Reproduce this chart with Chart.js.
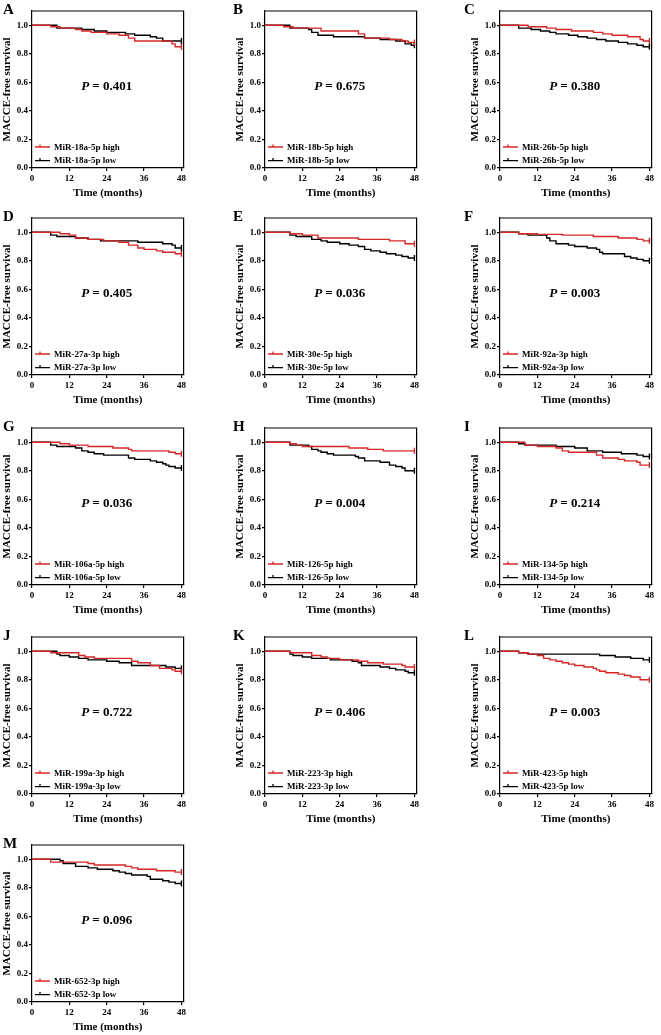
<!DOCTYPE html>
<html>
<head>
<meta charset="utf-8">
<script src="https://cdn.jsdelivr.net/npm/chart.js@4.4.1/dist/chart.umd.min.js"></script>
<style>
  html, body { margin: 0; padding: 0; background: #fff; overflow: hidden; }
  body { width: 661px; height: 1035px; position: relative; }
  .panel { position: absolute; }
</style>
</head>
<body>
<script>
const timeTicks = [0, 12, 24, 36, 48]
const survTicks = [0, 0.2, 0.4, 0.6, 0.8, 1.0]
const letters = ['A', 'B', 'C', 'D', 'E', 'F', 'G', 'H', 'I', 'J', 'K', 'L', 'M']
const mirnas = ['MiR-18a-5p', 'MiR-18b-5p', 'MiR-26b-5p', 'MiR-27a-3p', 'MiR-30e-5p', 'MiR-92a-3p',
  'MiR-106a-5p', 'MiR-126-5p', 'MiR-134-5p', 'MiR-199a-3p', 'MiR-223-3p', 'MiR-423-5p', 'MiR-652-3p']
const pValues = ['0.401', '0.675', '0.380', '0.405', '0.036', '0.003', '0.036', '0.004', '0.214', '0.722', '0.406', '0.003', '0.096']

// [month, survival after that event]
const highA = [[0,1],[6,0.99],[9,0.98],[14,0.97],[16,0.96],[19,0.95],[24,0.94],[28,0.93],[31,0.91],[33,0.89],[45,0.87],[46,0.85],[48,0.85]]
const lowA  = [[0,1],[8,0.98],[16,0.97],[20,0.96],[24,0.95],[30,0.94],[33,0.93],[38,0.92],[40,0.91],[42,0.89],[48,0.89]]
const highB = [[0,1],[6,0.99],[9,0.98],[18,0.96],[30,0.94],[32,0.91],[40,0.90],[44,0.89],[46,0.88],[48,0.88]]
const lowB  = [[0,1],[8,0.98],[14,0.97],[15,0.95],[17,0.93],[22,0.92],[32,0.91],[37,0.90],[42,0.89],[45,0.87],[47,0.86],[48,0.86]]
const highC = [[0,1],[9,0.99],[15,0.98],[18,0.97],[23,0.96],[30,0.95],[33,0.94],[36,0.93],[41,0.92],[45,0.90],[46,0.89],[48,0.89]]
const lowC  = [[0,1],[6,0.98],[10,0.97],[13,0.96],[16,0.95],[18,0.94],[22,0.93],[25,0.92],[28,0.91],[31,0.90],[34,0.89],[38,0.88],[41,0.87],[44,0.86],[46,0.85],[48,0.85]]
const highD = [[0,1],[9,0.99],[12,0.98],[14,0.96],[18,0.95],[23,0.94],[28,0.93],[31,0.91],[34,0.89],[36,0.88],[40,0.87],[42,0.86],[46,0.85],[48,0.85]]
const lowD  = [[0,1],[6,0.98],[8,0.97],[14,0.96],[18,0.95],[22,0.94],[34,0.93],[42,0.92],[45,0.91],[46,0.89],[48,0.89]]
const highE = [[0,1],[8,0.99],[12,0.98],[17,0.96],[30,0.95],[40,0.94],[45,0.92],[48,0.92]]
const lowE  = [[0,1],[8,0.98],[10,0.97],[15,0.95],[18,0.94],[20,0.93],[24,0.92],[27,0.91],[30,0.90],[32,0.88],[34,0.87],[37,0.86],[39,0.85],[42,0.84],[44,0.83],[46,0.82],[48,0.82]]
const highF = [[0,1],[6,0.99],[12,0.985],[20,0.98],[30,0.97],[38,0.96],[44,0.95],[46,0.94],[48,0.94]]
const lowF  = [[0,1],[6,0.99],[9,0.98],[15,0.96],[16,0.94],[18,0.92],[22,0.91],[24,0.90],[28,0.89],[31,0.88],[32,0.86],[33,0.85],[40,0.83],[42,0.82],[44,0.81],[46,0.80],[48,0.80]]
const highG = [[0,1],[9,0.99],[12,0.98],[18,0.97],[26,0.96],[31,0.95],[32,0.94],[44,0.93],[46,0.92],[48,0.92]]
const lowG  = [[0,1],[6,0.98],[8,0.97],[14,0.96],[16,0.94],[18,0.93],[20,0.92],[23,0.91],[31,0.89],[33,0.88],[38,0.87],[40,0.86],[42,0.85],[43,0.84],[44,0.83],[46,0.82],[48,0.82]]
const highH = [[0,1],[8,0.99],[10,0.98],[12,0.97],[27,0.96],[33,0.95],[38,0.94],[48,0.94]]
const lowH  = [[0,1],[8,0.98],[14,0.97],[15,0.95],[17,0.94],[18,0.93],[20,0.92],[22,0.91],[29,0.90],[30,0.89],[32,0.87],[37,0.86],[40,0.84],[42,0.83],[44,0.82],[45,0.80],[48,0.80]]
const highI = [[0,1],[8,0.98],[12,0.97],[18,0.96],[20,0.94],[22,0.93],[31,0.91],[33,0.89],[38,0.88],[40,0.87],[44,0.86],[45,0.84],[48,0.84]]
const lowI  = [[0,1],[6,0.99],[8,0.98],[18,0.97],[24,0.96],[28,0.94],[33,0.93],[39,0.92],[44,0.91],[46,0.90],[48,0.90]]
const highJ = [[0,1],[6,0.99],[15,0.97],[17,0.96],[20,0.95],[32,0.93],[34,0.92],[38,0.90],[41,0.88],[45,0.87],[46,0.86],[48,0.86]]
const lowJ  = [[0,1],[8,0.98],[9,0.97],[12,0.96],[15,0.95],[18,0.94],[24,0.93],[28,0.92],[32,0.90],[43,0.89],[46,0.88],[48,0.88]]
const highK = [[0,1],[8,0.99],[15,0.97],[18,0.96],[20,0.95],[24,0.94],[30,0.93],[33,0.92],[38,0.91],[44,0.90],[45,0.89],[48,0.89]]
const lowK  = [[0,1],[8,0.98],[9,0.97],[12,0.96],[15,0.95],[21,0.94],[28,0.93],[30,0.92],[31,0.90],[37,0.89],[40,0.88],[42,0.87],[45,0.86],[46,0.85],[48,0.85]]
const highL = [[0,1],[6,0.99],[9,0.98],[12,0.97],[14,0.95],[16,0.94],[18,0.93],[20,0.92],[22,0.91],[24,0.90],[27,0.89],[30,0.88],[31,0.87],[32,0.86],[34,0.85],[38,0.84],[40,0.83],[42,0.82],[45,0.80],[48,0.80]]
const lowL  = [[0,1],[6,0.99],[9,0.98],[32,0.97],[37,0.96],[42,0.95],[46,0.94],[48,0.94]]
const highM = [[0,1],[6,0.98],[18,0.97],[20,0.96],[30,0.95],[32,0.94],[34,0.93],[40,0.92],[46,0.91],[48,0.91]]
const lowM  = [[0,1],[9,0.99],[10,0.97],[14,0.95],[18,0.94],[21,0.93],[26,0.92],[28,0.91],[30,0.90],[32,0.89],[37,0.88],[38,0.86],[42,0.85],[44,0.84],[46,0.83],[48,0.83]]

const highs = [highA, highB, highC, highD, highE, highF, highG, highH, highI, highJ, highK, highL, highM]
const lows  = [lowA, lowB, lowC, lowD, lowE, lowF, lowG, lowH, lowI, lowJ, lowK, lowL, lowM]

const RED = 'rgb(214,38,38)'
const SERIF = '"Liberation Serif", "Times New Roman", serif'

// layout of the 3-column grid (plot-area left edges, x-axis baselines)
const colLeft = [32, 265, 500]
const letterDx = [-29, -32, -36]
const rowBase = [167.5, 375, 585, 794, 1002]
const AXIS_W = 32, AXIS_H = 33, PAD_L = 8, PAD_T = 12, PAD_R = 4, PLOT_W = 153, PLOT_H = 157

const overlay = {
  id: 'overlay',
  afterDraw(chart, args, o) {
    const { ctx, chartArea: a, scales: { x, y } } = chart
    ctx.save()
    ctx.strokeStyle = '#000'
    ctx.lineWidth = 1.2
    ctx.beginPath()
    ctx.moveTo(a.left, a.top)
    ctx.lineTo(a.right, a.top)
    ctx.lineTo(a.right, a.bottom)
    ctx.stroke()

    // panel letter
    ctx.fillStyle = '#000'
    ctx.textBaseline = 'alphabetic'
    ctx.textAlign = 'left'
    ctx.font = `bold 15px ${SERIF}`
    ctx.fillText(o.letter, a.left + o.letterDx, a.top + 3)

    // P value
    const px = x.getPixelForValue(24), py = y.getPixelForValue(0.57)
    ctx.textBaseline = 'middle'
    ctx.font = `italic bold 13px ${SERIF}`
    const wP = ctx.measureText('P').width
    const rest = ' = ' + o.p
    ctx.font = `bold 13px ${SERIF}`
    const wR = ctx.measureText(rest).width
    let sx = px - (wP + wR) / 2
    ctx.font = `italic bold 13px ${SERIF}`
    ctx.fillText('P', sx, py)
    ctx.font = `bold 13px ${SERIF}`
    ctx.fillText(rest, sx + wP, py)

    // legend
    ctx.font = `bold 9px ${SERIF}`
    chart.data.datasets.forEach((ds, i) => {
      const ly = a.bottom - 21 + i * 13.6
      ctx.strokeStyle = ds.borderColor
      ctx.lineWidth = 1.3
      ctx.beginPath()
      ctx.moveTo(a.left + 3, ly)
      ctx.lineTo(a.left + 18, ly)
      ctx.moveTo(a.left + 8, ly)
      ctx.lineTo(a.left + 8, ly - 2.5)
      ctx.stroke()
      ctx.fillStyle = '#000'
      ctx.fillText(ds.label, a.left + 22, ly + 0.5)
    })
    ctx.restore()
  }
}

function series(label, pts, color) {
  const last = pts.length - 1
  return {
    label,
    data: pts.map(([t, s]) => ({ x: t, y: s })),
    borderColor: color,
    borderWidth: 1.4,
    stepped: true,
    fill: false,
    pointStyle: 'line',
    rotation: 90,
    pointRadius: c => (c.dataIndex === last ? 3 : 0),
    pointBorderColor: color,
    pointBorderWidth: 1.4,
  }
}

letters.forEach((letter, i) => {
  const col = i % 3, row = Math.floor(i / 3)
  const w = PAD_L + AXIS_W + PLOT_W + PAD_R
  const h = PAD_T + PLOT_H + AXIS_H
  const wrap = document.createElement('div')
  wrap.className = 'panel'
  wrap.style.left = (colLeft[col] - AXIS_W - PAD_L) + 'px'
  wrap.style.top = (rowBase[row] - PLOT_H - PAD_T) + 'px'
  wrap.style.width = w + 'px'
  wrap.style.height = h + 'px'
  const cv = document.createElement('canvas')
  cv.width = w
  cv.height = h
  wrap.appendChild(cv)
  document.body.appendChild(wrap)

  const tickFont = { family: SERIF, size: 9, weight: 'bold' }
  const titleFont = { family: SERIF, size: 11, weight: 'bold' }

  new Chart(cv, {
    type: 'line',
    data: {
      datasets: [
        series(mirnas[i] + ' high', highs[i], RED),
        series(mirnas[i] + ' low', lows[i], '#000'),
      ],
    },
    options: {
      responsive: false,
      animation: false,
      events: [],
      layout: { padding: { left: PAD_L, top: PAD_T, right: PAD_R, bottom: 0 } },
      plugins: {
        legend: { display: false },
        tooltip: { enabled: false },
        overlay: { letter, letterDx: letterDx[col], p: pValues[i] },
      },
      scales: {
        x: {
          type: 'linear',
          min: 0,
          max: 48.7,
          afterBuildTicks: s => { s.ticks = timeTicks.map(v => ({ value: v })) },
          afterFit: s => { s.height = AXIS_H },
          ticks: { color: '#000', font: tickFont, padding: 2, maxRotation: 0, callback: v => String(v) },
          grid: { drawOnChartArea: false, drawTicks: true, tickLength: 3, color: '#000', lineWidth: 1.2 },
          border: { color: '#000', width: 1.2 },
          title: { display: true, text: 'Time (months)', color: '#000', font: titleFont, padding: { top: 0, bottom: 1 } },
        },
        y: {
          min: 0,
          max: 1.1,
          afterBuildTicks: s => { s.ticks = survTicks.map(v => ({ value: v })) },
          afterFit: s => { s.width = AXIS_W },
          ticks: { color: '#000', font: tickFont, padding: 1, callback: v => Number(v).toFixed(1) },
          grid: { drawOnChartArea: false, drawTicks: true, tickLength: 3, color: '#000', lineWidth: 1.2 },
          border: { color: '#000', width: 1.2 },
          title: { display: true, text: 'MACCE-free survival', color: '#000', font: titleFont, padding: { top: 1, bottom: 0 } },
        },
      },
    },
    plugins: [overlay],
  })
})
</script>
</body>
</html>
